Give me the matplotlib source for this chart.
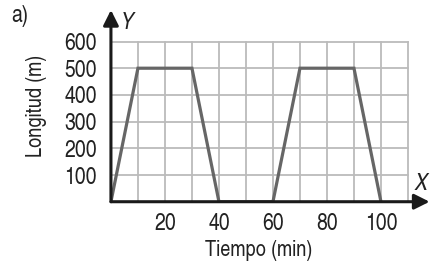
import matplotlib.pyplot as plt

# data
tiempo = [0, 10, 30, 40, 60, 70, 90, 100]
longitud = [0, 500, 500, 0, 0, 500, 500, 0]
x_ticks = [20, 40, 60, 80, 100]
y_ticks = [100, 200, 300, 400, 500, 600]

plt.rcParams['font.family'] = ['TeX Gyre Heros Cn', 'DejaVu Sans']

fig = plt.figure(figsize=(4.3, 2.63), dpi=100)
ax = fig.add_axes([0.258, 0.233, 0.741, 0.729])
ax.set_xlim(0, 118)
ax.set_ylim(0, 718)
for s in ax.spines.values():
    s.set_visible(False)

# grid only inside 0..110 x 0..600
grid = dict(color='#bbbbbb', lw=1.3, zorder=1)
for gx in range(10, 111, 10):
    ax.plot([gx, gx], [0, 600], **grid)
for gy in range(100, 601, 100):
    ax.plot([0, 110], [gy, gy], **grid)

ax.plot(tiempo, longitud, color='#666666', lw=2.3, zorder=3, solid_joinstyle='miter')

# axes with arrows
ax.annotate('', xy=(118, 0), xytext=(0, 0), annotation_clip=False,
            arrowprops=dict(arrowstyle='-|>', color='#1a1a1a', lw=2.2,
                            mutation_scale=23, shrinkA=0, shrinkB=0), zorder=4)
ax.annotate('', xy=(0, 718), xytext=(0, 0), annotation_clip=False,
            arrowprops=dict(arrowstyle='-|>', color='#1a1a1a', lw=2.2,
                            mutation_scale=23, shrinkA=0, shrinkB=0), zorder=4)

ax.set_xticks(x_ticks)
ax.set_yticks(y_ticks)
ax.tick_params(length=0, labelsize=17, colors='#222222')
ax.tick_params(axis='x', pad=8)
ax.tick_params(axis='y', pad=10)

ax.set_xlabel('Tiempo (min)', fontsize=16, color='#222222')
ax.xaxis.set_label_coords(0.465, -0.2)
ax.set_ylabel('Longitud (m)', fontsize=16, color='#222222')
ax.yaxis.set_label_coords(-0.2, 0.5)

ax.text(6, 712, 'Y', fontsize=17, style='italic', va='top', ha='center', color='#222222')
ax.text(115, 68, 'X', fontsize=17, style='italic', va='center', ha='center', color='#222222')
fig.text(0.025, 0.94, 'a)', fontsize=17, va='center', color='#222222')

fig.savefig('out.png', dpi=100)
